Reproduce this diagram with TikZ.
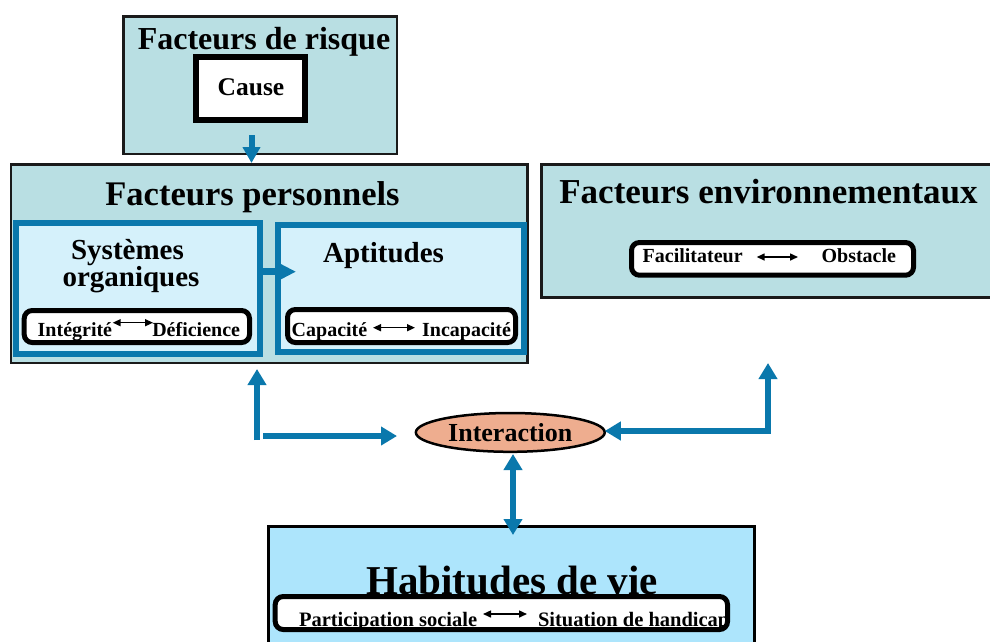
\documentclass[tikz,border=0pt]{standalone}
\usepackage{fontspec}
\setmainfont{Liberation Serif}
\usetikzlibrary{arrows.meta,shapes.geometric}
\definecolor{cTeal}{HTML}{B9DFE3}
\definecolor{cLight}{HTML}{D5F1FB}
\definecolor{cHab}{HTML}{ADE5FC}
\definecolor{cSalmon}{HTML}{EEAD8F}
\definecolor{cBlue}{HTML}{0A78AC}
\definecolor{cBorder}{HTML}{1A1A1A}
\begin{document}
\begin{tikzpicture}[x=1pt,y=-1pt,
  rect/.style={rectangle,inner sep=0pt,outer sep=0pt},
  box/.style={rect,draw=cBorder,line width=2.6pt,fill=cTeal},
  subbox/.style={rect,draw=cBlue,line width=6pt,fill=cLight},
  pill/.style={rect,draw=black,line width=5pt,fill=white,rounded corners=8pt},
  barrow/.style={draw=cBlue,line width=6.5pt,-{Triangle[width=18pt,length=16pt]}},
  bdouble/.style={draw=cBlue,line width=6.5pt,{Triangle[width=18pt,length=16pt]}-{Triangle[width=18pt,length=16pt]}},
  sarrow/.style={line width=1.5pt,{Triangle[width=7pt,length=8pt]}-{Triangle[width=7pt,length=8pt]}},
  fs/.style={font=\fontsize{#1}{#1}\selectfont\bfseries},
  lbl/.style={anchor=base,inner sep=0pt,outer sep=0pt},
]
\clip (0,0) rectangle (990,641);
\fill[white] (0,0) rectangle (990,641);

% ---- Facteurs de risque
\node[box,minimum width=273.5pt,minimum height=137.5pt] (risk) at (260.25,85.25) {};
\node[lbl,fs=32] (risktitle) at (264,49) {Facteurs de risque};
\node[rect,draw=black,line width=6pt,fill=white,minimum width=109.8pt,minimum height=63pt] (cause) at (250.5,88.5) {};
\node[lbl,fs=25.5] (causetxt) at (251,95.6) {Cause};

% ---- Facteurs personnels
\node[box,minimum width=516.5pt,minimum height=198.5pt] (perso) at (269.25,263.75) {};
\node[lbl,fs=34.5] (persotitle) at (252.5,205) {Facteurs personnels};
\node[subbox,minimum width=243.7pt,minimum height=130.7pt] (sys) at (137.85,288.35) {};
\node[subbox,minimum width=245.7pt,minimum height=127.3pt] (apt) at (400.85,288.35) {};
\node[lbl,fs=29] (systxt1) at (127.5,259) {Systèmes};
\node[lbl,fs=29] (systxt2) at (131,286) {organiques};
\node[lbl,fs=29] (apttxt) at (383.6,262) {Aptitudes};

\node[pill,minimum width=225.3pt,minimum height=32pt] (integ) at (136.85,326.5) {};
\node[lbl,fs=20,anchor=base west] (tinteg) at (37.7,336.7) {Intégrité};
\node[lbl,fs=20,anchor=base east] (tdefic) at (240,336.7) {Déficience};
\coordinate (ia) at (112.7,322.7);
\coordinate (ib) at (153,322.7);
\draw[sarrow] (ia) -- (ib);

\node[pill,minimum width=228pt,minimum height=33pt] (capa) at (401.5,326) {};
\node[lbl,fs=20,anchor=base west] (tcapa) at (291.7,336) {Capacité};
\node[lbl,fs=20,anchor=base east] (tincapa) at (511,336) {Incapacité};
\coordinate (ca) at (373,327.7);
\coordinate (cb) at (415,327.7);
\draw[sarrow] (ca) -- (cb);

% ---- Facteurs environnementaux
\node[box,minimum width=468.5pt,minimum height=133pt] (env) at (775.75,231) {};
\node[lbl,fs=35] (envtitle) at (768.5,203) {Facteurs environnementaux};
\node[pill,minimum width=282pt,minimum height=32.7pt] (fac) at (772.5,258.85) {};
\node[lbl,fs=20,anchor=base west] (tfac) at (642.7,262.7) {Facilitateur};
\node[lbl,fs=20,anchor=base east] (tobs) at (896,262.7) {Obstacle};
\coordinate (fa) at (756.7,257);
\coordinate (fb) at (798,257);
\draw[sarrow] (fa) -- (fb);

% ---- Interaction
\node[ellipse,draw=black,line width=2.5pt,fill=cSalmon,inner sep=0pt,outer sep=0pt,
  minimum width=188.9pt,minimum height=38.8pt,fs=26] (inter) at (510.3,432.4) {Interaction};

% ---- Habitudes de vie
\node[rect,draw=black,line width=3pt,fill=cHab,minimum width=486pt,minimum height=193.5pt] (habit) at (511.5,623.25) {};
\node[lbl,fs=41] (habtitle) at (512,594.5) {Habitudes de vie};
\node[pill,minimum width=452.3pt,minimum height=33pt] (part) at (501.35,613) {};
\begin{scope}
  \clip[rounded corners=5pt] (277.7,599) rectangle (725,627.2);
  \node[lbl,fs=20.5,anchor=base west] (tpart) at (299,626.7) {Participation sociale};
  \node[lbl,fs=20.5,anchor=base west] (tsit) at (538,626.7) {Situation de handicap};
\end{scope}
\coordinate (pa) at (483,614);
\coordinate (pb) at (527,614);
\draw[sarrow] (pa) -- (pb);

% ---- blue arrows
\coordinate (d0) at (251.5,135);
\coordinate (d1) at (251.5,163);
\draw[draw=cBlue,line width=6pt,-{Triangle[width=17pt,length=16pt]}] (d0) -- (d1);

\coordinate (s1) at (296,271.7);
\draw[draw=cBlue,line width=6.5pt,-{Triangle[width=15pt,length=16pt]}] (sys.east |- s1) -- (s1);

\coordinate (l0) at (257,440);
\coordinate (l1) at (257,369);
\draw[barrow] (l0) -- (l1);
\coordinate (h0) at (263,436);
\coordinate (h1) at (397,436);
\draw[barrow] (h0) -- (h1);

\coordinate (r0) at (768,431);
\coordinate (r1) at (768,363);
\draw[bdouble] (inter.east |- r0) -- (r0) -- (r1);

\coordinate (v0) at (513,454);
\coordinate (v1) at (513,535);
\draw[bdouble] (v0) -- (v1);
\end{tikzpicture}
\end{document}
